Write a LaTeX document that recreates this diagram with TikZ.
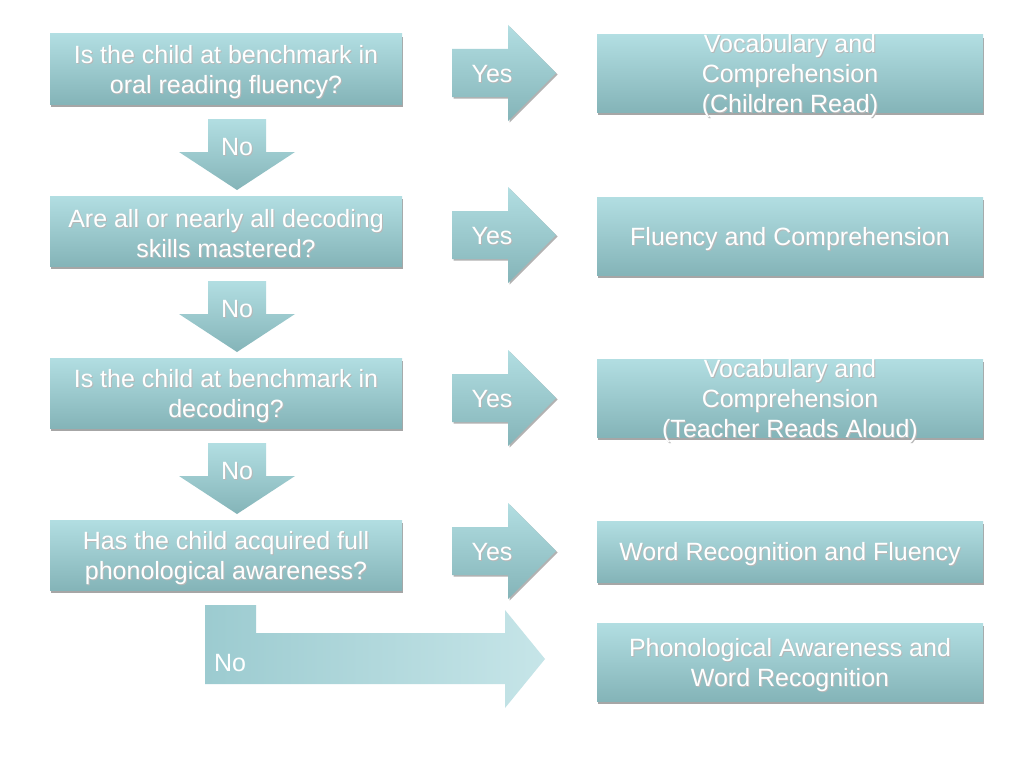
\documentclass[tikz,border=0pt]{standalone}
\usepackage{fontspec}
\setmainfont{Liberation Sans}
\usetikzlibrary{shadows}

\definecolor{boxtop}{RGB}{178,222,226}
\definecolor{boxbot}{RGB}{132,180,184}
\definecolor{bentleft}{RGB}{156,203,208}
\definecolor{bentright}{RGB}{198,229,232}

\tikzset{
  box/.style={rectangle,inner sep=0pt,top color=boxtop,bottom color=boxbot,
    drop shadow={shadow xshift=0.5pt,shadow yshift=-3pt,fill=black!35,opacity=1}},
  qbox/.style={box,minimum width=352pt,minimum height=70pt},
  abox/.style={box,minimum width=386pt},
  txt/.style={text=white,align=center,inner sep=0pt,font=\fontsize{25}{30}\selectfont},
  txtsh/.style={txt,text=black!28},
  blockarrow/.style={top color=boxtop,bottom color=boxbot},
}

% white text with a thin grey shadow
\newcommand\boxtext[2]{%
  \node[txtsh] (#1-s) at ([xshift=1pt,yshift=-4pt]#1.center) {#2};
  \node[txt] (#1-t) at ([yshift=-3pt]#1.center) {#2};
}

\begin{document}
\begin{tikzpicture}[x=1pt,y=-1pt]
  \useasboundingbox[fill=white] (0,0) rectangle (1024,768);

  % questions
  \node[qbox] (q1) at (226,69)  {};
  \node[qbox] (q2) at (226,231) {};
  \node[qbox] (q3) at (226,393) {};
  \node[qbox] (q4) at (226,555) {};

  % answers
  \node[abox,minimum height=77pt] (a1) at (790,73.5) {};
  \node[abox,minimum height=78pt] (a2) at (790,236)  {};
  \node[abox,minimum height=78pt] (a3) at (790,398)  {};
  \node[abox,minimum height=61pt] (a4) at (790,551.5) {};
  \node[abox,minimum height=78pt] (a5) at (790,662)  {};

  \boxtext{q1}{Is the child at benchmark in\\oral reading fluency?}
  \boxtext{q2}{Are all or nearly all decoding\\skills mastered?}
  \boxtext{q3}{Is the child at benchmark in\\decoding?}
  \boxtext{q4}{Has the child acquired full\\phonological awareness?}
  \boxtext{a1}{Vocabulary and\\Comprehension\\(Children Read)}
  \boxtext{a2}{Fluency and Comprehension}
  \boxtext{a3}{Vocabulary and\\Comprehension\\(Teacher Reads Aloud)}
  \boxtext{a4}{Word Recognition and Fluency}
  \boxtext{a5}{Phonological Awareness and\\Word Recognition}

  % yes arrows
  \foreach \i/\c in {1/73,2/235,3/398,4/551} {
    \path[blockarrow,drop shadow={shadow xshift=1.5pt,shadow yshift=-1.5pt,fill=black!30,opacity=1}]
      (452,\c-24) -- (508,\c-24) -- (508,\c-48) -- (556,\c) -- (508,\c+48) -- (508,\c+24) -- (452,\c+24) -- cycle;
    \node[txtsh] (yes\i-s) at (493,\c+2) {Yes};
    \node[txt] (yes\i) at (492,\c+1) {Yes};
  }

  % no arrows
  \foreach \i/\b in {1/104,2/266,3/428} {
    \path[blockarrow]
      (208,\b+15) -- (266,\b+15) -- (266,\b+48) -- (295,\b+48) -- (237,\b+86) -- (179,\b+48) -- (208,\b+48) -- cycle;
    \node[txtsh] (no\i-s) at (238,\b+44) {No};
    \node[txt] (no\i) at (237,\b+43) {No};
  }

  % last no
  \path[left color=bentleft,right color=bentright]
    (205,605) -- (256,605) -- (256,633) -- (505,633) -- (505,610) -- (545,659) -- (505,708) -- (505,684) -- (205,684) -- cycle;
  \node[txt] (no4) at (230,663) {No};
\end{tikzpicture}
\end{document}
